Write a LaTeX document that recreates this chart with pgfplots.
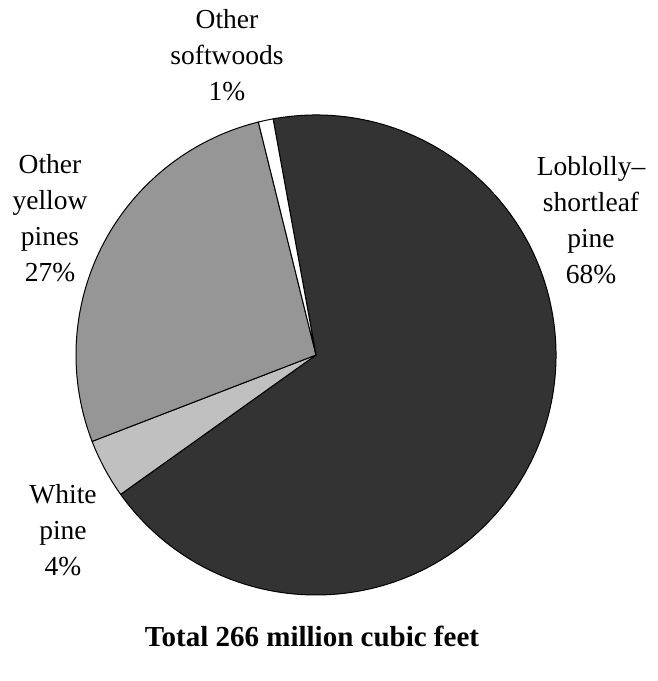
\documentclass[border=0pt]{standalone}
\usepackage{fontspec}
\setmainfont{Liberation Serif}
\usepackage{pgfplots}
\usepackage{pgfplotstable}
\pgfplotsset{compat=1.18}

\definecolor{cLob}{HTML}{333333}
\definecolor{cWhite}{HTML}{C0C0C0}
\definecolor{cYellow}{HTML}{969696}
\definecolor{cOther}{HTML}{FFFFFF}

% share in percent, clockwise from the top
\pgfplotstableread{
pct color
68 cLob
4  cWhite
27 cYellow
1  cOther
}\piedata

\begin{document}
\begin{tikzpicture}[x=1pt,y=1pt,
  lbl/.style={font=\fontsize{27.5}{36}\selectfont, align=center, inner sep=0pt}]
\useasboundingbox (0,0) rectangle (657,681);
\begin{axis}[
  at={(316pt,326pt)}, anchor=origin,
  x=1pt, y=1pt,
  xmin=-240, xmax=240, ymin=-240, ymax=240,
  hide axis, clip=false,
]
\pgfplotstablegetrowsof{\piedata}
\pgfmathtruncatemacro{\nrows}{\pgfplotsretval-1}
\def\startang{100.3}
\foreach \i in {0,...,\nrows}{
  \pgfplotstablegetelem{\i}{pct}\of{\piedata}
  \let\p\pgfplotsretval
  \pgfplotstablegetelem{\i}{color}\of{\piedata}
  \let\c\pgfplotsretval
  \pgfmathsetmacro{\endang}{\startang-3.6*\p}
  \edef\tmp{\noexpand\filldraw[fill=\c, draw=black, line width=1pt, line join=round]
    (axis cs:0,0) -- ++(\startang:240pt) arc[start angle=\startang, end angle=\endang, radius=240pt] -- cycle;}
  \tmp
  \global\let\startang\endang
}
\node[lbl] at (axis cs:-89,300) {Other\\softwoods\\1\%};
\node[lbl] at (axis cs:275,135) {Loblolly–\\shortleaf\\pine\\68\%};
\node[lbl] at (axis cs:-266,137) {Other\\yellow\\pines\\27\%};
\node[lbl] at (axis cs:-253,-175) {White\\pine\\4\%};
\node[font=\fontsize{29}{36}\selectfont\bfseries, inner sep=0pt] at (axis cs:-4,-281) {Total 266 million cubic feet};
\end{axis}
\end{tikzpicture}
\end{document}
